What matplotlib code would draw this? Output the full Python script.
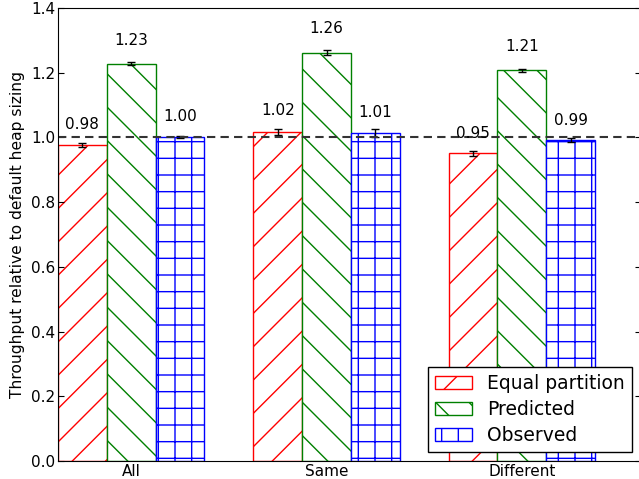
import numpy as np
import matplotlib
matplotlib.use("Agg")
import matplotlib.pyplot as plt

# data
groups = ["All", "Same", "Different"]
series_names = ["Equal partition", "Predicted", "Observed"]
equal_vals = [0.977, 1.018, 0.951]
pred_vals = [1.228, 1.262, 1.208]
obs_vals = [1.001, 1.014, 0.991]
equal_err = [0.006, 0.009, 0.008]
pred_err = [0.004, 0.008, 0.005]
obs_err = [0.004, 0.012, 0.006]

colors = ["r", "g", "b"]
hatches = ["/", "\\", "+"]

plt.rcParams["font.family"] = "DejaVu Sans"

fig = plt.figure(figsize=(6.39, 4.79), dpi=100)
# axes box: left edge at 58px, right spine just past the image edge
ax = fig.add_axes([58 / 639, 18 / 479, 583 / 639, 453 / 479])

ind = np.arange(len(groups))
width = 0.25

all_vals = [equal_vals, pred_vals, obs_vals]
all_errs = [equal_err, pred_err, obs_err]

for i in range(3):
    b = ax.bar(ind + i * width, all_vals[i], width, align="edge",
               color="white", edgecolor=colors[i], hatch=hatches[i],
               linewidth=1.0, label=series_names[i],
               yerr=all_errs[i], ecolor="k", capsize=3,
               error_kw=dict(elinewidth=1, capthick=1))
    for rect, h in zip(b, all_vals[i]):
        ax.text(rect.get_x() + rect.get_width() / 2., 1.04 * h, "%.2f" % h,
                ha="center", va="bottom", fontsize=11)

ax.axhline(1.0, color="#333333", linestyle=(0, (4, 2.5)), linewidth=1.5)

ax.set_xlim(0, 583 / 195.3)
ax.set_ylim(0, 1.4)
ax.set_xticks(ind + 1.5 * width)
ax.set_xticklabels(groups, fontsize=11)
ax.set_yticks(np.arange(0, 1.41, 0.2))
ax.set_yticklabels(["%.1f" % v for v in np.arange(0, 1.41, 0.2)], fontsize=11)
ax.tick_params(axis="y", direction="in", length=4, right=True, pad=2)
ax.tick_params(axis="x", length=0, pad=2)
ax.set_ylabel("Throughput relative to default heap sizing", fontsize=11.2)

leg = ax.legend(loc="lower right", fontsize=13.5, fancybox=False,
                framealpha=1, edgecolor="k", borderaxespad=0.5,
                labelspacing=0.38, borderpad=0.35)
leg.get_frame().set_linewidth(1.0)

fig.savefig("out.png", dpi=100)
